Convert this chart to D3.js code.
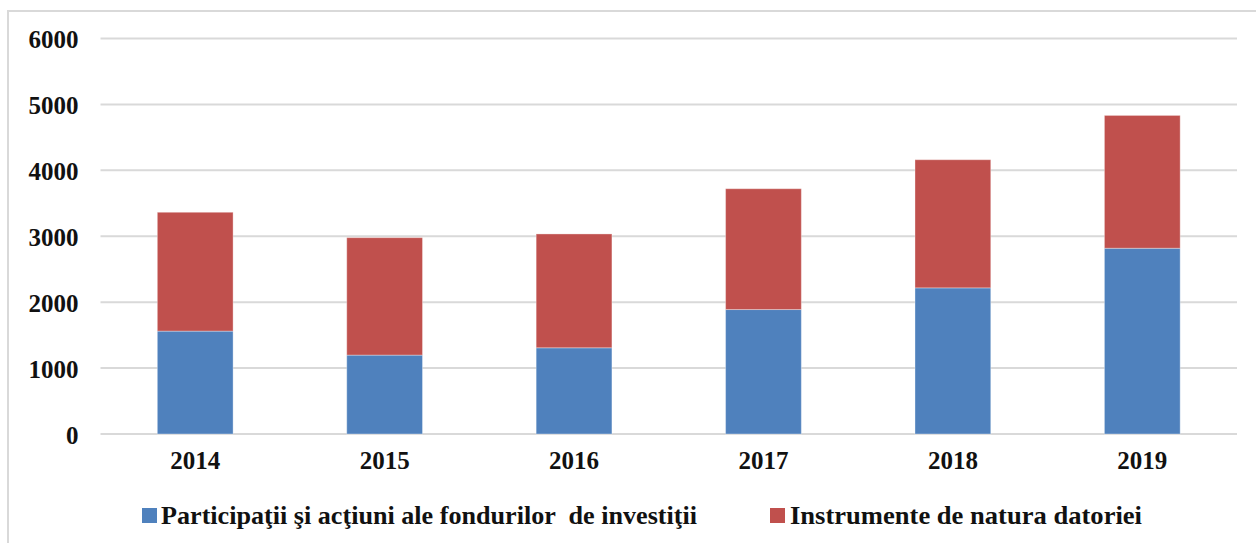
<!DOCTYPE html>
<html>
<head>
<meta charset="utf-8">
<script src="https://cdn.jsdelivr.net/npm/d3@7"></script>
<style>
    body { margin: 0; background: #fff; }
    svg { display: block; }
    .tick-label { font-family: "Liberation Serif", "Times New Roman", serif; font-weight: bold; font-size: 25px; fill: #111; }
    .legend-label { font-family: "Liberation Serif", "Times New Roman", serif; font-weight: bold; font-size: 25px; fill: #111; white-space: pre; }
</style>
</head>
<body>
<div class="contents"></div>
<script>
var years = ["2014", "2015", "2016", "2017", "2018", "2019"];
var participatii = [1561, 1197, 1308, 1888, 2217, 2818];
var instrumente = [1803, 1782, 1727, 1833, 1944, 2015];
var seriesNames = ["Participaţii şi acţiuni ale fondurilor  de investiţii", "Instrumente de natura datoriei"];
var yTicks = [0, 1000, 2000, 3000, 4000, 5000, 6000];

var svgWidth = 1256,
    svgHeight = 543;

var margin = {
    top: 38.5,
    right: 19,
    bottom: 109,
    left: 100.5
};

var width = svgWidth - margin.left - margin.right,
    height = svgHeight - margin.top - margin.bottom;

var colors = ["#4F81BD", "#C0504D"];
var serif = "'Liberation Serif', 'Times New Roman', serif";

var svg = d3.select(".contents")
    .append("svg")
    .attr("width", svgWidth)
    .attr("height", svgHeight);

// outer chart border (runs off the right and bottom)
svg.append("rect")
    .attr("x", 8)
    .attr("y", 11)
    .attr("width", svgWidth + 20)
    .attr("height", svgHeight + 20)
    .attr("fill", "none")
    .attr("stroke", "#d9d9d9")
    .attr("stroke-width", 2);

var g = svg.append("g")
    .attr("transform", "translate(" + margin.left + "," + margin.top + ")");

var x = d3.scaleBand()
    .domain(years)
    .range([0, width])
    .paddingInner(0.6)
    .paddingOuter(0.3);

var y = d3.scaleLinear()
    .domain([0, 6000])
    .range([height, 0]);

// gridlines
g.append("g")
    .attr("class", "grid")
    .selectAll("line")
    .data(yTicks)
    .enter().append("line")
    .attr("x1", 0)
    .attr("x2", width)
    .attr("y1", function(d) { return y(d); })
    .attr("y2", function(d) { return y(d); })
    .attr("stroke", "#d9d9d9")
    .attr("stroke-width", 2);

// y axis labels
var yAxis = d3.axisLeft(y)
    .tickValues(yTicks)
    .tickFormat(d3.format("d"))
    .tickSize(0)
    .tickPadding(22);

g.append("g")
    .attr("class", "y axis")
    .attr("font-family", serif)
    .attr("font-size", 25)
    .call(yAxis)
    .call(function(a) { a.select(".domain").remove(); })
    .selectAll("text")
    .attr("class", "tick-label")
    .attr("dy", "0.36em");

// stacked bars
var table = years.map(function(yr, i) {
    return { year: yr, participatii: participatii[i], instrumente: instrumente[i] };
});
var stack = d3.stack().keys(["participatii", "instrumente"]);
var layers = stack(table);

g.append("g")
    .attr("class", "bars")
    .selectAll("g")
    .data(layers)
    .enter().append("g")
    .attr("fill", function(d, i) { return colors[i]; })
    .selectAll("rect")
    .data(function(d) { return d; })
    .enter().append("rect")
    .attr("x", function(d) { return x(d.data.year); })
    .attr("y", function(d) { return y(d[1]); })
    .attr("width", x.bandwidth())
    .attr("height", function(d) { return y(d[0]) - y(d[1]); })
    .attr("stroke", "rgba(255,255,255,0.35)")
    .attr("stroke-width", 1);

// x axis labels
var xAxis = d3.axisBottom(x).tickSize(0).tickPadding(22);
g.append("g")
    .attr("class", "x axis")
    .attr("transform", "translate(0," + height + ")")
    .attr("font-family", serif)
    .attr("font-size", 25)
    .call(xAxis)
    .call(function(a) { a.select(".domain").remove(); })
    .selectAll("text")
    .attr("class", "tick-label")
    .attr("dy", "0.5em");

// legend
var legendPos = [
    { sx: 142, tx: 161, len: 536 },
    { sx: 770, tx: 790, len: 352 }
];

var legend = svg.append("g")
    .attr("class", "legend")
    .attr("font-family", serif);

seriesNames.forEach(function(name, i) {
    legend.append("rect")
        .attr("x", legendPos[i].sx)
        .attr("y", 508)
        .attr("width", 15)
        .attr("height", 15)
        .attr("fill", colors[i]);
    legend.append("text")
        .attr("class", "legend-label")
        .attr("x", legendPos[i].tx)
        .attr("y", 524)
        .attr("xml:space", "preserve")
        .attr("textLength", legendPos[i].len)
        .attr("lengthAdjust", "spacingAndGlyphs")
        .text(name);
});
</script>
</body>
</html>
